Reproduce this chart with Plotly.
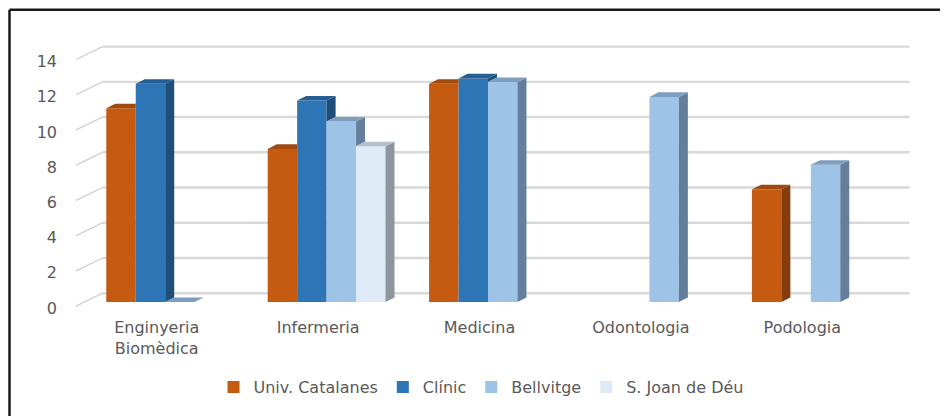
import plotly.graph_objects as go

# ---------------- data ----------------
categories = ["Enginyeria<br>Biomèdica", "Infermeria", "Medicina", "Odontologia", "Podologia"]
series_names = ["Univ. Catalanes", "Clínic", "Bellvitge", "S. Joan de Déu"]
univ_catalanes = [11.0, 8.7, 12.4, None, 6.4]
clinic = [12.4, 11.45, 12.7, None, None]
bellvitge = [0.0, 10.25, 12.5, 11.65, 7.8]
sant_joan = [None, 8.85, None, None, None]
y_ticks = [0, 2, 4, 6, 8, 10, 12, 14]

series_values = [univ_catalanes, clinic, bellvitge, sant_joan]

# ---------------- style ----------------
front_colors = ["#C55A11", "#2E75B6", "#9DC3E6", "#DEEBF7"]
top_colors = ["#A04A10", "#245E94", "#7F9EBF", "#B4C0CB"]
side_colors = ["#843C0C", "#1F4E79", "#647F9C", "#8D969E"]
text_color = "#595959"
grid_color = "#D9D9D9"
FONT = "DejaVu Sans"
FS = 16

PAGE_OFF = 8  # default body margin of the html page
W, H = 948 - PAGE_OFF, 416 - PAGE_OFF

def P(px):
    return px - PAGE_OFF

PLOT_L, PLOT_R, PLOT_T, PLOT_B = P(62), P(930), P(30), P(315)
PX_PER_CAT = 161.4
CAT0_PX = P(165.2)
PX_PER_UNIT = 17.8
BASE_PX = P(305)

# oblique-projection offsets (converted to data units)
FRONT_DX, FRONT_DY = -8.5 / PX_PER_CAT, -4.0 / PX_PER_UNIT
LABEL_DY = -6.0 / PX_PER_UNIT
BACK_DX, BACK_DY = 18.0 / PX_PER_CAT, 9.0 / PX_PER_UNIT
DEPTH_DX, DEPTH_DY = 9.0 / PX_PER_CAT, 4.6 / PX_PER_UNIT

BARGAP = 0.27
n_series = len(series_values)
group_w = 1 - BARGAP
bar_w = group_w / n_series

x_range = [(PLOT_L - CAT0_PX) / PX_PER_CAT, (PLOT_R - CAT0_PX) / PX_PER_CAT]
y_range = [(BASE_PX - PLOT_B) / PX_PER_UNIT, (BASE_PX - PLOT_T) / PX_PER_UNIT]

fig = go.Figure()

# ---------------- back wall gridlines & left wall diagonals ----------------
n_cat = len(categories)
gx, gy, dxs, dys = [], [], [], []
for v in y_ticks:
    gx += [-0.5 + BACK_DX, n_cat - 0.5 + BACK_DX, None]
    gy += [v + BACK_DY, v + BACK_DY, None]
    dxs += [-0.5 + FRONT_DX, -0.5 + BACK_DX, None]
    dys += [v + FRONT_DY, v + BACK_DY, None]
fig.add_trace(go.Scatter(x=gx, y=gy, mode="lines", line=dict(color=grid_color, width=2.4),
                         showlegend=False, hoverinfo="skip", zorder=0))
fig.add_trace(go.Scatter(x=dxs, y=dys, mode="lines", line=dict(color="#CFCFCF", width=1.3),
                         showlegend=False, hoverinfo="skip", zorder=0))

# ---------------- front faces (bars) ----------------
xs = list(range(n_cat))
for k, vals in enumerate(series_values):
    fig.add_trace(go.Bar(x=xs, y=vals, name=series_names[k],
                         marker=dict(color=front_colors[k], line=dict(width=0)),
                         zorder=1, hoverinfo="skip"))

# ---------------- top & side faces ----------------
for k, vals in enumerate(series_values):
    tx, ty, sx, sy = [], [], [], []
    for i, v in enumerate(vals):
        if v is None:
            continue
        L = i - group_w / 2 + k * bar_w
        R = L + bar_w
        vn = series_values[k + 1][i] if k + 1 < n_series else None
        # side face, clipped above the neighbouring bar
        lo = max(0.0, vn) if vn is not None else 0.0
        if v > lo:
            sx += [R, R, R + DEPTH_DX, R + DEPTH_DX, R, None]
            sy += [lo, v, v + DEPTH_DY, lo + DEPTH_DY, lo, None]
        # top face, clipped by taller neighbour's front face
        if vn is not None and vn > v:
            t = (vn - v) / DEPTH_DY
            if t >= 1:
                tx += [L, R, R, L + DEPTH_DX, L, None]
                ty += [v, v, v + DEPTH_DY, v + DEPTH_DY, v, None]
            else:
                tx += [L, R, R, R + DEPTH_DX * t, R + DEPTH_DX, L + DEPTH_DX, L, None]
                ty += [v, v, vn, vn, v + DEPTH_DY, v + DEPTH_DY, v, None]
        else:
            tx += [L, R, R + DEPTH_DX, L + DEPTH_DX, L, None]
            ty += [v, v, v + DEPTH_DY, v + DEPTH_DY, v, None]
    fig.add_trace(go.Scatter(x=sx, y=sy, mode="lines", fill="toself", fillcolor=side_colors[k],
                             line=dict(width=0, color=side_colors[k]), showlegend=False,
                             hoverinfo="skip", zorder=2))
    fig.add_trace(go.Scatter(x=tx, y=ty, mode="lines", fill="toself", fillcolor=top_colors[k],
                             line=dict(width=0, color=top_colors[k]), showlegend=False,
                             hoverinfo="skip", zorder=2))

# ---------------- layout ----------------
def px_to_paper_x(px):
    return (P(px) - PLOT_L) / (PLOT_R - PLOT_L)

def px_to_paper_y(py):
    return (PLOT_B - P(py)) / (PLOT_B - PLOT_T)

fig.update_layout(
    width=W, height=H,
    margin=dict(l=PLOT_L, r=W - PLOT_R, t=PLOT_T, b=H - PLOT_B, pad=0),
    paper_bgcolor="white", plot_bgcolor="white",
    barmode="group", bargap=BARGAP, bargroupgap=0,
    font=dict(family=FONT, size=FS, color=text_color),
    xaxis=dict(range=x_range, showgrid=False, zeroline=False, showline=False,
               tickmode="array", tickvals=[i + FRONT_DX for i in xs], ticktext=categories,
               ticks="", tickfont=dict(family=FONT, size=FS, color=text_color),
               ticklabelstandoff=4),
    yaxis=dict(range=y_range, showgrid=False, zeroline=False, showline=False,
               tickmode="array", tickvals=[v + LABEL_DY for v in y_ticks],
               ticktext=[str(v) for v in y_ticks], ticks="",
               tickfont=dict(family=FONT, size=FS, color=text_color),
               ticklabelstandoff=4),
    legend=dict(orientation="h", x=px_to_paper_x(481), xanchor="center",
                y=px_to_paper_y(391), yanchor="middle",
                font=dict(family=FONT, size=FS, color=text_color),
                traceorder="normal", bgcolor="rgba(0,0,0,0)"),
    showlegend=True,
    shapes=[
        dict(type="line", xref="paper", yref="paper",
             x0=px_to_paper_x(9.5), x1=px_to_paper_x(960), y0=px_to_paper_y(9.5), y1=px_to_paper_y(9.5),
             line=dict(color="#1A1A1A", width=2.5)),
        dict(type="line", xref="paper", yref="paper",
             x0=px_to_paper_x(9.5), x1=px_to_paper_x(9.5), y0=px_to_paper_y(9.5), y1=px_to_paper_y(430),
             line=dict(color="#1A1A1A", width=2.5)),
    ],
)

fig.write_html("out.html", config={"displayModeBar": False})
